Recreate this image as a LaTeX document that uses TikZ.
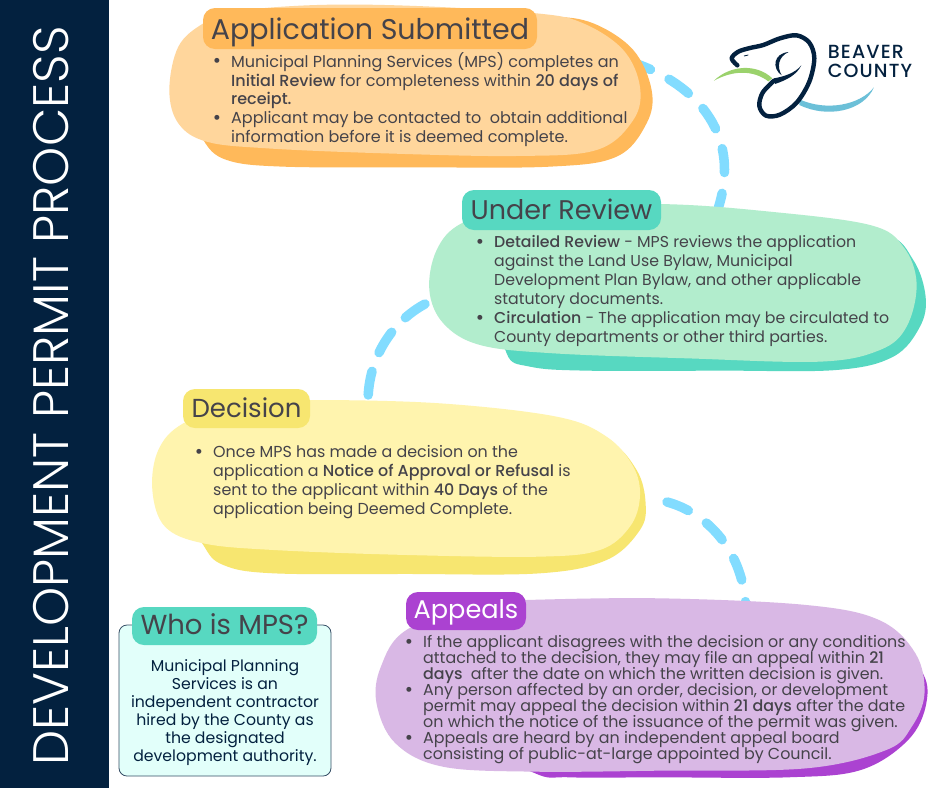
\documentclass[tikz,border=0pt]{standalone}
\usepackage{fontspec}
\setmainfont{Poppins}[BoldFont={Poppins Medium}]
\newfontfamily\titlefont{Poppins Light}
\newfontfamily\logofont{Poppins Medium}[LetterSpace=6]
\usetikzlibrary{calc}
\normallineskiplimit=-20pt
\lineskiplimit=-20pt
\definecolor{navy}{HTML}{03213F}
\definecolor{ink}{HTML}{45434A}
\definecolor{orangeA}{HTML}{FFD69C}
\definecolor{orangeB}{HTML}{FFB95A}
\definecolor{greenA}{HTML}{B2EDCD}
\definecolor{greenB}{HTML}{57D8C1}
\definecolor{yellowA}{HTML}{FFF4AE}
\definecolor{yellowB}{HTML}{F7E670}
\definecolor{purpleA}{HTML}{D9B8E5}
\definecolor{purpleB}{HTML}{AB42D1}
\definecolor{linkblue}{HTML}{82DCFF}
\definecolor{mint}{HTML}{E2FFFA}
\definecolor{grass}{HTML}{9BD26C}
\definecolor{water}{HTML}{6CC0D8}
\newcommand{\bul}{\llap{\raisebox{-0.4pt}{\fontsize{20}{16}\selectfont •}\hspace{10pt}}}
\tikzset{
  x=1pt,y=-1pt,
  blob/.style={smooth cycle,tension=0.6},
  header/.style={rounded corners=12pt,inner sep=0pt,text=ink,anchor=center,text depth=0pt},
  bodytext/.style={anchor=north west,align=left,inner sep=0pt,text=ink},
  linkline/.style={draw=linkblue,line width=9.5pt,line cap=round},
}
\begin{document}
\begin{tikzpicture}
\useasboundingbox (0,0) rectangle (940,788);
\fill[white] (0,0) rectangle (940,788);
\fill[navy] (0,0) rectangle (109,788);
\node[rotate=90,text=white,inner sep=0pt,font=\titlefont\fontsize{49.8}{52}\selectfont] (title) at (51,396) {DEVELOPMENT PERMIT PROCESS};

% link anchors
\coordinate (subOut) at (628,61);
\coordinate (revIn) at (717,212);
\coordinate (revOut) at (425,304);
\coordinate (decIn) at (368,402);
\coordinate (decOut) at (667,502);
\coordinate (appIn) at (746,612);
\draw[linkline,dash pattern=on 24pt off 21pt] (subOut) .. controls (690,80) and (745,130) .. (revIn);
\draw[linkline,dash pattern=on 24pt off 20pt] (revOut) .. controls (395,320) and (368,355) .. (decIn);
\draw[linkline,dash pattern=on 23pt off 22pt] (decOut) .. controls (705,512) and (745,550) .. (appIn);

% orange blob
\begin{scope}[shift={(150,0)},scale=0.3333]
\fill[orangeB] plot[blob] coordinates {(160,420) (230,480) (400,500) (800,502) (1200,500) (1400,470) (1490,370) (1505,270) (1450,150) (1330,70) (1200,50) (1000,60) (500,120) (200,200) (130,320)};
\fill[orangeA] plot[blob] coordinates {(58,270) (85,140) (160,70) (250,35) (500,15) (800,18) (1160,40) (1300,70) (1420,150) (1470,260) (1450,360) (1340,450) (1100,468) (700,460) (350,445) (170,425) (85,370)};
\end{scope}
% green blob
\begin{scope}[shift={(420,180)},scale=0.3333]
\fill[greenB] plot[blob] coordinates {(260,520) (330,560) (500,572) (900,572) (1250,570) (1420,530) (1500,440) (1517,350) (1480,240) (1390,160) (1100,120) (500,200) (250,350)};
\fill[greenA] plot[blob] coordinates {(28,330) (50,210) (125,130) (300,80) (720,72) (1050,95) (1350,135) (1450,200) (1490,310) (1460,440) (1380,510) (1200,545) (800,535) (400,520) (180,495) (70,430)};
\end{scope}
% yellow blob
\begin{scope}[shift={(140,380)},scale=0.3333]
\fill[yellowB] plot[blob] coordinates {(190,495) (250,555) (400,580) (800,582) (1200,580) (1400,540) (1500,450) (1517,370) (1490,270) (1400,180) (1200,130) (800,110) (350,200) (130,360)};
\fill[yellowA] plot[blob] coordinates {(37,330) (55,210) (130,130) (300,70) (510,60) (900,70) (1250,110) (1400,170) (1480,260) (1500,350) (1470,440) (1380,510) (1200,530) (800,525) (400,510) (190,490) (75,440)};
\end{scope}
% purple blob
\begin{scope}[shift={(370,580)},xscale=0.3636,yscale=0.3333]
\fill[purpleB] plot[blob] coordinates {(450,578) (550,592) (800,592) (1150,592) (1350,570) (1480,480) (1530,370) (1515,270) (1400,150) (1000,110) (500,150) (250,450)};
\fill[purpleA] plot[blob] coordinates {(18,370) (30,260) (100,150) (300,70) (430,60) (800,55) (1200,75) (1400,120) (1500,220) (1525,340) (1490,440) (1420,510) (1200,565) (800,572) (450,575) (200,560) (70,490)};
\end{scope}

% headers
\node[header,fill=orangeB,minimum width=334pt,minimum height=41pt,text height=22pt,font=\fontsize{28.5}{30}\selectfont] (hsub) at (370,28.5) {Application Submitted};
\node[header,fill=greenB,minimum width=199pt,minimum height=40pt,text height=19.5pt,font=\fontsize{27}{29}\selectfont] (hrev) at (561.5,210) {Under Review};
\node[header,fill=yellowB,minimum width=127pt,minimum height=39pt,text height=17.5pt,font=\fontsize{26}{28}\selectfont] (hdec) at (246.5,408.5) {Decision};
\node[header,fill=purpleB,text=white,minimum width=120pt,minimum height=38pt,text height=15pt,font=\fontsize{25.6}{28}\selectfont] (happ) at (466,611) {Appeals};

% body texts
\node[bodytext,font=\fontsize{16.0}{18.9}\selectfont] (tsub) at (231,52) {\bul Municipal Planning Services (MPS) completes an\\
\textbf{Initial Review} for completeness within \textbf{20 days of}\\
\textbf{receipt.}\\
\bul Applicant may be contacted to\ \ obtain additional\\
information before it is deemed complete.};
\node[bodytext,font=\fontsize{15.75}{19}\selectfont] (trev) at (494,235.5) {\bul\textbf{Detailed Review} - MPS reviews the application\\
against the Land Use Bylaw, Municipal\\
Development Plan Bylaw, and other applicable\\
statutory documents.\\
\bul\textbf{Circulation} - The application may be circulated to\\
County departments or other third parties.};
\node[bodytext,font=\fontsize{15.9}{19}\selectfont] (tdec) at (213,445.5) {\bul Once MPS has made a decision on the\\
application a \textbf{Notice of Approval or Refusal} is\\
sent to the applicant within \textbf{40 Days} of the\\
application being Deemed Complete.};
\node[bodytext,font=\fontsize{15.9}{16}\selectfont] (tapp) at (423,635.5) {\bul If the applicant disagrees with the decision or any conditions\\
attached to the decision, they may file an appeal within \textbf{21}\\
\textbf{days}\ \ after the date on which the written decision is given.\\
\bul Any person affected by an order, decision, or development\\
permit may appeal the decision within \textbf{21 days} after the date\\
on which the notice of the issuance of the permit was given.\\
\bul Appeals are heard by an independent appeal board\\
consisting of public-at-large appointed by Council.};

% who box
\node[draw=navy!80,line width=0.8pt,fill=mint,rounded corners=8pt,minimum width=212pt,minimum height=151pt,inner sep=0pt] (who) at (225,700.5) {};
\node[header,fill=greenB,minimum width=185pt,minimum height=38pt,text height=17pt,font=\fontsize{27.5}{29}\selectfont] (hwho) at (224.5,626) {Who is MPS?};
\node[anchor=north,align=center,inner sep=0pt,text=navy,font=\fontsize{15.7}{18}\selectfont] (twho) at (225,659) {Municipal Planning\\Services is an\\independent contractor\\hired by the County as\\the designated\\development authority.};

% logo
\begin{scope}[shift={(640,10)},scale=0.3333]
\fill[grass] (222,212) .. controls (270,165) and (350,160) .. (397,205) -- (385,214) .. controls (340,180) and (280,180) .. (222,212) -- cycle;
\fill[water] (478,268) .. controls (560,305) and (660,285) .. (702,232) .. controls (670,305) and (560,325) .. (478,285) -- cycle;
\draw[navy,line width=4.4pt,line cap=round,line join=round] plot[smooth,tension=0.55] coordinates {(292,166) (275,145) (295,125) (330,114) (370,105) (420,85) (470,76) (508,98) (523,145) (508,215) (470,278) (420,314) (378,317) (358,288) (368,248) (402,212)};
\fill[navy] (402,205) .. controls (430,200) and (465,190) .. (484,166) .. controls (470,195) and (440,210) .. (405,222) -- cycle;
\fill[navy] (446,126) .. controls (400,130) and (395,175) .. (425,196) .. controls (410,170) and (415,140) .. (446,126) -- cycle;
\draw[navy,line width=0.8pt] (312,138) -- (325,135);
\node[anchor=north west,inner sep=0pt,align=left,text=navy,font=\logofont\fontsize{19}{19}\selectfont] (logotext) at (563,106) {BEAVER\\COUNTY};
\end{scope}
\end{tikzpicture}
\end{document}
